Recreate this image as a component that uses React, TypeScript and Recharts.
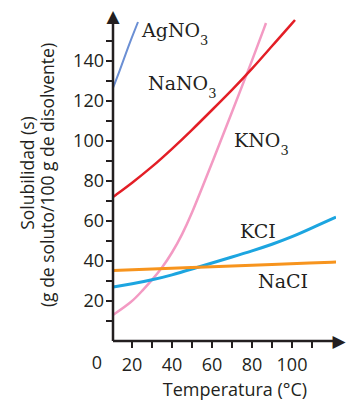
import { Label, Line, LineChart, ReferenceDot, XAxis, YAxis } from "recharts";

// solubility curves (temperature °C, g / 100 g water)
const agno3Temp = [10.5, 14, 17, 20, 23];
const agno3Sol = [126.5, 135.5, 144, 152, 159.5];

const nano3Temp = [10.5, 20, 30, 40, 50, 60, 70, 80, 90, 101.5];
const nano3Sol = [72, 79, 87, 96, 105.5, 115.5, 125.5, 136, 147.5, 160.5];

const kno3Temp = [10.5, 20, 25, 30, 35, 40, 45, 50, 55, 60, 70, 80, 87];
const kno3Sol = [13, 19.5, 25, 30.5, 36.5, 44, 53, 64, 76.5, 89, 114.5, 140, 159];

const kclTemp = [10.5, 20, 30, 40, 50, 60, 70, 80, 90, 100, 110, 122];
const kclSol = [27, 28.5, 30.5, 33, 36, 39, 42, 45, 48.3, 52, 56.5, 62];

const naclTemp = [10.5, 30, 50, 70, 90, 110, 122];
const naclSol = [35.3, 36, 36.8, 37.5, 38.3, 39, 39.5];

const xTicks = [20, 30, 40, 50, 60, 70, 80, 90, 100, 110];
const yTicks = [10, 20, 30, 40, 50, 60, 70, 80, 90, 100, 110, 120, 130, 140, 150];
const xDomain = [10.5, 122];
const yDomain = [0, 161];

const INK = "#231f20";
const SANS = "'Open Sans', sans-serif";
const SERIF = "'DejaVu Serif', serif";

// plot box
const W = 346;
const H = 404;
const LEFT = 113;
const TOP = 19;
const RIGHT = 336;
const BOTTOM = 341;

const toPoints = (t: number[], s: number[]) => t.map((x, i) => ({ t: x, s: s[i] }));

function seriesLabel(main: string, sub?: string) {
  return (props: any) => {
    const { viewBox } = props;
    return (
      <text x={viewBox.x} y={viewBox.y} fontFamily={SERIF} fontSize={19} fill={INK}>
        {main}
        {sub && (
          <tspan fontSize={13} dy={8}>
            {sub}
          </tspan>
        )}
      </text>
    );
  };
}

export default function App() {
  return (
    <div style={{ position: "absolute", left: 0, top: 0, width: W, height: H, background: "#fff" }}>
      <LineChart width={W} height={H} margin={{ top: TOP, right: W - RIGHT, bottom: 0, left: 0 }}>
        <XAxis
          type="number"
          dataKey="t"
          domain={xDomain}
          allowDataOverflow
          ticks={xTicks}
          interval={0}
          tickFormatter={(v) => (v % 20 === 0 ? String(v) : "")}
          height={H - BOTTOM}
          tickSize={7}
          tickMargin={10}
          axisLine={{ stroke: INK, strokeWidth: 2.5 }}
          tickLine={{ stroke: INK, strokeWidth: 2 }}
          tick={{ fill: INK, fontSize: 18, fontFamily: SANS }}
        >
          <Label
            content={() => (
              <g fill={INK}>
                {/* arrowheads at the axis ends, as glyphs */}
                <text
                  x={RIGHT + 3}
                  y={BOTTOM}
                  fontFamily="'DejaVu Sans'"
                  fontSize={17}
                  textAnchor="middle"
                  dominantBaseline="central"
                >
                  ▶
                </text>
                <text
                  x={LEFT}
                  y={TOP - 3}
                  fontFamily="'DejaVu Sans'"
                  fontSize={17}
                  textAnchor="middle"
                  dominantBaseline="central"
                >
                  ▲
                </text>
                <text x={97} y={369} textAnchor="middle" fontFamily={SANS} fontSize={18}>
                  0
                </text>
                <text x={235} y={396} textAnchor="middle" fontFamily={SANS} fontSize={18}>
                  Temperatura (°C)
                </text>
              </g>
            )}
          />
        </XAxis>
        <YAxis
          type="number"
          domain={yDomain}
          allowDataOverflow
          ticks={yTicks}
          interval={0}
          tickFormatter={(v) => (v % 20 === 0 ? String(v) : "")}
          width={LEFT}
          tickSize={7}
          tickMargin={2}
          axisLine={{ stroke: INK, strokeWidth: 2.5 }}
          tickLine={{ stroke: INK, strokeWidth: 2 }}
          tick={{ fill: INK, fontSize: 18, fontFamily: SANS }}
        >
          <Label
            content={() => (
              <g fontFamily={SANS} fill={INK} fontSize={17.5}>
                <text x={27} y={173} textAnchor="middle" dominantBaseline="central" transform="rotate(-90 27 173)">
                  Solubilidad (s)
                </text>
                <text x={47} y={175} textAnchor="middle" dominantBaseline="central" transform="rotate(-90 47 175)">
                  (g de soluto/100 g de disolvente)
                </text>
              </g>
            )}
          />
        </YAxis>

        <Line data={toPoints(kno3Temp, kno3Sol)} dataKey="s" type="basis" stroke="#f39ac3" strokeWidth={2.5} dot={false} isAnimationActive={false} />
        <Line data={toPoints(kclTemp, kclSol)} dataKey="s" type="basis" stroke="#1ca5e0" strokeWidth={3} dot={false} isAnimationActive={false} />
        <Line data={toPoints(naclTemp, naclSol)} dataKey="s" type="basis" stroke="#f7941d" strokeWidth={3} dot={false} isAnimationActive={false} />
        <Line data={toPoints(nano3Temp, nano3Sol)} dataKey="s" type="basis" stroke="#e31e26" strokeWidth={2.5} dot={false} isAnimationActive={false} />
        <Line data={toPoints(agno3Temp, agno3Sol)} dataKey="s" type="basis" stroke="#6b8fd4" strokeWidth={2} dot={false} isAnimationActive={false} />

        <ReferenceDot x={25} y={152} r={0} stroke="none" label={{ content: seriesLabel("AgNO", "3") }} />
        <ReferenceDot x={28} y={125.5} r={0} stroke="none" label={{ content: seriesLabel("NaNO", "3") }} />
        <ReferenceDot x={71} y={97} r={0} stroke="none" label={{ content: seriesLabel("KNO", "3") }} />
        <ReferenceDot x={74} y={51.5} r={0} stroke="none" label={{ content: seriesLabel("KCI") }} />
        <ReferenceDot x={83} y={26.5} r={0} stroke="none" label={{ content: seriesLabel("NaCI") }} />
      </LineChart>
    </div>
  );
}
